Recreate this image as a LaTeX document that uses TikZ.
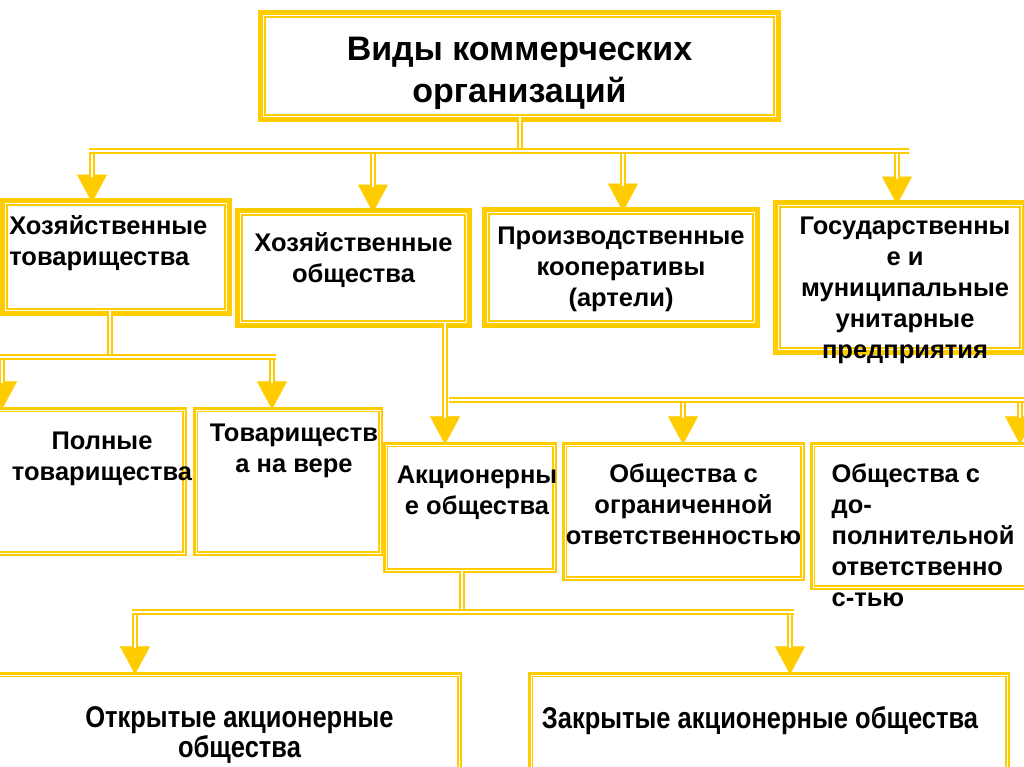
\documentclass[tikz,border=0pt]{standalone}
\usepackage{fontspec}
\setmainfont{Liberation Sans}
\newfontfamily\narrowfont[FakeStretch=0.85]{Liberation Sans}
\usetikzlibrary{positioning,arrows.meta}
\definecolor{gold}{RGB}{255,204,0}
\tikzset{
  frame/.style={draw=gold, fill=white, line width=1.8pt, double=white, double distance=1.6pt,
    preaction={draw=gold, line width=11pt}, inner sep=0pt},
  thinframe/.style={draw=gold, fill=white, line width=1.2pt, double=white, double distance=1pt,
    preaction={draw=gold, line width=6pt}, inner sep=0pt},
  bar/.style={draw=gold, line width=2.6pt, double=white, double distance=1.4pt},
  feed/.style={bar, shorten >=26pt},
  head/.style={draw=gold, line width=0.4pt, -{Triangle[width=30pt,length=28pt]}},
  txt/.style={font=\bfseries\fontsize{25.5}{31}\selectfont, align=center, inner sep=0pt},
  ttl/.style={font=\bfseries\fontsize{34}{42}\selectfont, align=center, inner sep=0pt},
  ntxt/.style={font=\narrowfont\bfseries\fontsize{30}{30}\selectfont, align=center, inner sep=0pt}
}
\begin{document}
\begin{tikzpicture}[x=1pt,y=-1pt]
\useasboundingbox (0,0) rectangle (1024,767);
% boxes
\node[frame, minimum width=512pt, minimum height=101pt] (kinds) at (519.5,66) {};
\node[frame, minimum width=221pt, minimum height=107pt] (partn) at (116,257) {};
\node[frame, minimum width=226pt, minimum height=109pt] (soc) at (353.5,268) {};
\node[frame, minimum width=267pt, minimum height=110pt] (coop) at (621,267.5) {};
\node[frame, minimum width=243pt, minimum height=144pt] (unit) at (900,277.5) {};
\node[thinframe, minimum width=186pt, minimum height=143pt] (full) at (91,481.5) {};
\node[thinframe, minimum width=184pt, minimum height=143pt] (comm) at (288,481.5) {};
\node[thinframe, minimum width=168pt, minimum height=125pt] (jsc) at (470,507.5) {};
\node[thinframe, minimum width=237pt, minimum height=133pt] (llc) at (683.5,511.5) {};
\node[thinframe, minimum width=214pt, minimum height=142pt] (alc) at (920,516) {};
\node[thinframe, minimum width=461pt, minimum height=97pt] (ojsc) at (228.5,723.5) {};
\node[thinframe, minimum width=476pt, minimum height=97pt] (cjsc) at (769,723.5) {};

% first level
\coordinate (j1) at (520,151);
\coordinate (b1l) at (88.5,151);
\coordinate (b1r) at (908.5,151);
\draw[bar] (kinds.south -| j1) -- (j1);
\foreach \x/\n in {92/partn, 373/soc, 623/coop, 897/unit} {
  \coordinate (h) at (\x,151);
  \draw[head] (h) -- (h |- \n.north);
  \draw[feed] (h) -- (h |- \n.north);
}
\draw[bar] (b1l) -- (b1r);

% partnerships
\coordinate (j2) at (110,357);
\coordinate (b2l) at (-10,357);
\coordinate (b2r) at (275.5,357);
\draw[bar] (j2 |- partn.south) -- (j2);
\foreach \x/\n in {2/full, 272/comm} {
  \coordinate (h) at (\x,357);
  \draw[head] (h) -- (h |- \n.north);
  \draw[feed] (h) -- (h |- \n.north);
}
\draw[bar] (b2l) -- (b2r);

% societies
\coordinate (j3) at (445,400);
\coordinate (b3l) at (448.5,400);
\coordinate (b3r) at (1030,400);
\draw[head] (j3 |- soc.south) -- (j3 |- jsc.north);
\draw[feed] (j3 |- soc.south) -- (j3 |- jsc.north);
\foreach \x/\n in {683/llc, 1020/alc} {
  \coordinate (h) at (\x,400);
  \draw[head] (h) -- (h |- \n.north);
  \draw[feed] (h) -- (h |- \n.north);
}
\draw[bar] (b3l) -- (b3r);

% joint-stock
\coordinate (j4) at (462,612);
\coordinate (b4l) at (131.5,612);
\coordinate (b4r) at (793.5,612);
\draw[bar] (j4 |- jsc.south) -- (j4);
\foreach \x/\n in {135/ojsc, 790/cjsc} {
  \coordinate (h) at (\x,612);
  \draw[head] (h) -- (h |- \n.north);
  \draw[feed] (h) -- (h |- \n.north);
}
\draw[bar] (b4l) -- (b4r);

% texts
\node[ttl, below=22.5pt of kinds.north] (kinds-t) {Виды коммерческих\\организаций};
\node[txt, align=left, below right=13pt and 4.5pt of partn.north west] (partn-t) {Хозяйственные\\товарищества};
\node[txt, below=20pt of soc.north] (soc-t) {Хозяйственные\\общества};
\node[txt, below=15.5pt of coop.north] (coop-t) {Производственные\\кооперативы\\(артели)};
\node[txt, below=12pt of unit.north, xshift=5pt] (unit-t) {Государственны\\е и\\муниципальные\\унитарные\\предприятия};
\node[txt, below=22pt of full.north, xshift=11pt] (full-t) {Полные\\товарищества};
\node[txt, below=14pt of comm.north, xshift=6pt] (comm-t) {Товариществ\\а на вере};
\node[txt, below=21.5pt of jsc.north, xshift=7pt] (jsc-t) {Акционерны\\е общества};
\node[txt, below=19pt of llc.north] (llc-t) {Общества с\\ограниченной\\ответственностью};
\node[txt, align=left, below right=19.5pt and 19pt of alc.north west] (alc-t) {Общества с\\до-\\полнительной\\ответственно\\с-тью};
\node[ntxt, below=31.5pt of ojsc.north, xshift=11pt] (ojsc-t) {Открытые акционерные\\общества};
\node[ntxt, below=31.5pt of cjsc.north, xshift=-9pt] (cjsc-t) {Закрытые акционерные общества};
\end{tikzpicture}
\end{document}
